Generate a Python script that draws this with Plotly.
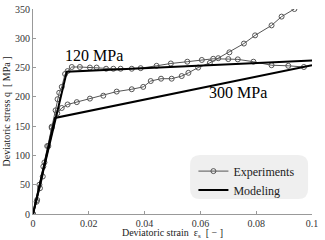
import plotly.graph_objects as go

exp120_strain = [0, 0.0013, 0.0023, 0.0037, 0.0051, 0.0067, 0.0081, 0.0088, 0.0094, 0.0103, 0.0115,
                 0.0124, 0.0139, 0.0168, 0.0204, 0.0228, 0.0262, 0.0288, 0.0314, 0.0354, 0.0386,
                 0.0443, 0.0494, 0.0553, 0.0605, 0.0646, 0.0700, 0.0734, 0.0790, 0.0855, 0.0915, 0.0971]
exp120_stress = [0, 21, 50, 81, 116, 149, 177, 196, 207, 217, 239,
                 244, 251, 251, 250, 250, 248, 248, 248, 248, 249,
                 253, 257, 260, 263, 265, 264.5, 264, 260, 254, 253, 251]

exp300_strain = [0, 0.0015, 0.0025, 0.0035, 0.0041, 0.0055, 0.0067, 0.0087, 0.0103, 0.0124, 0.0157,
                 0.0204, 0.0252, 0.0300, 0.0354, 0.0395, 0.0422, 0.0459, 0.0497, 0.0533, 0.0557,
                 0.0592, 0.0634, 0.0664, 0.0704, 0.0756, 0.0796, 0.0855, 0.0891, 0.0937]
exp300_stress = [0, 24, 44, 64, 88, 116, 147, 172, 181, 187, 191,
                 197, 202, 209, 213, 217, 227, 231, 231, 235.5, 241,
                 250, 258, 266, 276, 291, 305, 322, 337, 350]

model120_strain = [0, 0.0121, 0.1]
model120_stress = [0, 243, 262]
model300_strain = [0, 0.0079, 0.1]
model300_stress = [0, 164, 254]

x_ticks = [0, 0.02, 0.04, 0.06, 0.08, 0.1]
x_tick_labels = ["0", "0.02", "0.04", "0.06", "0.08", "0.1"]
y_ticks = [0, 50, 100, 150, 200, 250, 300, 350]

FONT = "Liberation Serif"
EXP_COLOR = "#555555"

fig = go.Figure()
exp_style = dict(mode="lines+markers", line=dict(color=EXP_COLOR, width=1),
                 marker=dict(symbol="circle-open", size=5, color=EXP_COLOR, line=dict(width=1)))
fig.add_trace(go.Scatter(x=exp120_strain, y=exp120_stress, name="Experiments", showlegend=True, **exp_style))
fig.add_trace(go.Scatter(x=exp300_strain, y=exp300_stress, name="Experiments", showlegend=False, **exp_style))
fig.add_trace(go.Scatter(x=model120_strain, y=model120_stress, mode="lines", name="Modeling",
                         line=dict(color="black", width=2), showlegend=True))
fig.add_trace(go.Scatter(x=model300_strain, y=model300_stress, mode="lines", name="Modeling",
                         line=dict(color="black", width=2), showlegend=False))

fig.add_annotation(x=0.0218, y=270, text="120 MPa", showarrow=False,
                   font=dict(family=FONT, size=16, color="black"))
fig.add_annotation(x=0.0735, y=208, text="300 MPa", showarrow=False,
                   font=dict(family=FONT, size=16, color="black"))

# rounded legend background
x0, x1, y0, y1 = 0.563, 0.986, 0.073, 0.288
rx, ry = 10 / 279, 10 / 205
path = (f"M {x0+rx},{y0} L {x1-rx},{y0} Q {x1},{y0} {x1},{y0+ry} "
        f"L {x1},{y1-ry} Q {x1},{y1} {x1-rx},{y1} L {x0+rx},{y1} Q {x0},{y1} {x0},{y1-ry} "
        f"L {x0},{y0+ry} Q {x0},{y0} {x0+rx},{y0} Z")
fig.add_shape(type="path", path=path, xref="paper", yref="paper",
              fillcolor="#efefef", line=dict(width=0), layer="below")

axis_common = dict(showgrid=False, zeroline=False, showline=True, linecolor="#999999", linewidth=1,
                   ticks="inside", ticklen=3, tickcolor="#999999", automargin=False,
                   tickfont=dict(family=FONT, size=10, color="#333333"))

fig.update_layout(
    width=325, height=240,
    margin=dict(l=33, r=13, t=9, b=26),
    paper_bgcolor="white", plot_bgcolor="white",
    font=dict(family=FONT, color="#222222"),
    xaxis=dict(range=[0, 0.1], tickvals=x_ticks, ticktext=x_tick_labels,
               title=dict(text="Deviatoric strain  ε<sub>s</sub>  [ − ]", font=dict(family=FONT, size=10), standoff=0),
               **axis_common),
    yaxis=dict(range=[0, 350], tickvals=y_ticks,
               title=dict(text="Deviatoric stress q  [ MPa ]", font=dict(family=FONT, size=10), standoff=2),
               **axis_common),
    legend=dict(x=0.575, y=0.28, xanchor="left", yanchor="top", bgcolor="rgba(0,0,0,0)",
                font=dict(family=FONT, size=12, color="#222222"), tracegroupgap=0),
)

fig.write_html("out.html", config={"displayModeBar": False},
               post_script="document.body.style.margin='0';")
